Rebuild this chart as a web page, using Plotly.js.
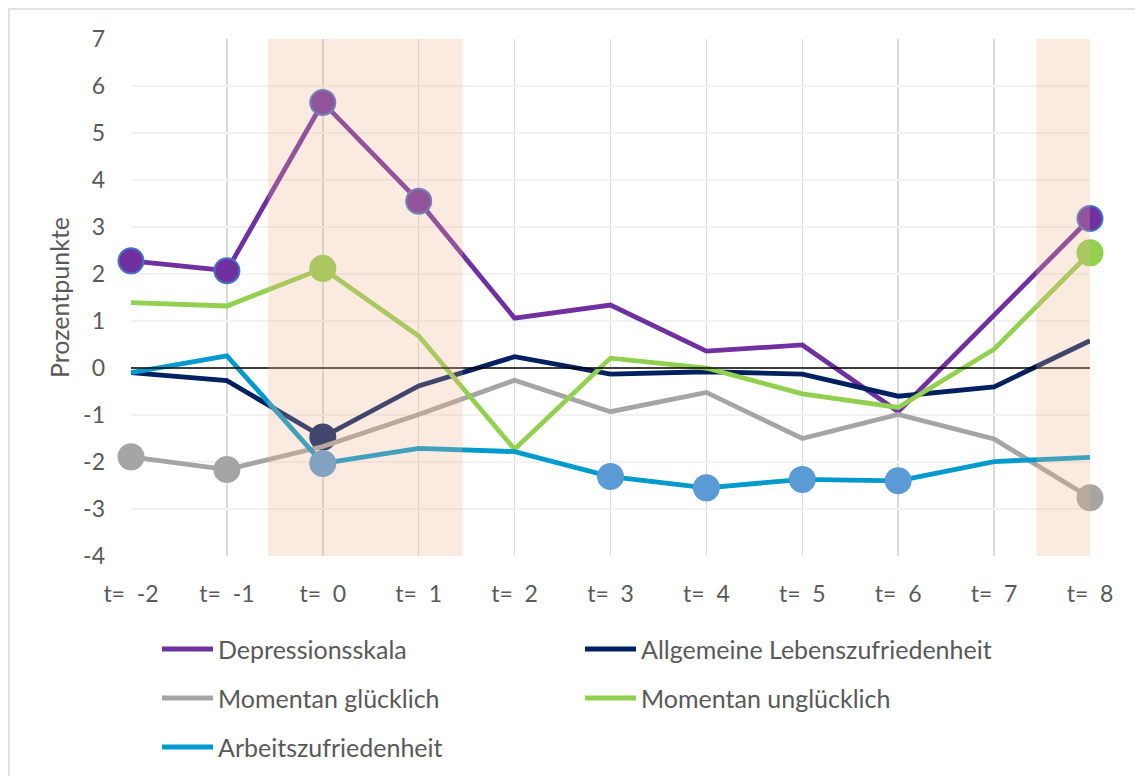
<!DOCTYPE html>
<html>
<head>
<meta charset="utf-8">
<script src="https://cdn.plot.ly/plotly-3.0.1.min.js"></script>
<style>html,body{margin:0;padding:0;background:#fff;}#chart{width:1135px;height:776px;}</style>
</head>
<body>
<div id="chart"></div>
<script>
// ---- data ----
const categories = ["t=\u00A0\u00A0-2","t=\u00A0\u00A0-1","t=\u00A0\u00A00","t=\u00A0\u00A01","t=\u00A0\u00A02","t=\u00A0\u00A03","t=\u00A0\u00A04","t=\u00A0\u00A05","t=\u00A0\u00A06","t=\u00A0\u00A07","t=\u00A0\u00A08"];
const seriesNames = ["Depressionsskala","Allgemeine Lebenszufriedenheit","Momentan glücklich","Momentan unglücklich","Arbeitszufriedenheit"];
const depression   = [2.28, 2.07, 5.65, 3.55, 1.06, 1.34, 0.36, 0.49, -0.93, 1.13, 3.18];
const lebenszufr   = [-0.10, -0.27, -1.47, -0.38, 0.24, -0.13, -0.08, -0.13, -0.60, -0.40, 0.58];
const gluecklich   = [-1.89, -2.16, -1.67, -0.99, -0.26, -0.93, -0.52, -1.50, -0.99, -1.51, -2.76];
const ungluecklich = [1.39, 1.32, 2.12, 0.68, -1.73, 0.21, 0.00, -0.55, -0.84, 0.40, 2.45];
const arbeitszufr  = [-0.10, 0.26, -2.03, -1.71, -1.78, -2.31, -2.55, -2.37, -2.40, -1.99, -1.90];
const nullLinie    = [0, 0, 0, 0, 0, 0, 0, 0, 0, 0, 0];
// indices of highlighted (marked) time points per series
const markedDepression   = [0, 1, 2, 3, 10];
const markedLebenszufr   = [2];
const markedGluecklich   = [0, 1, 10];
const markedUngluecklich = [2, 10];
const markedArbeitszufr  = [2, 5, 6, 7, 8];
const yTicks = [-4, -3, -2, -1, 0, 1, 2, 3, 4, 5, 6, 7];
const yTickLabels = ["-4", "-3", "-2", "-1", "0", "1", "2", "3", "4", "5", "6", "7"];

// ---- styles ----
const FONT = "Lato, 'Open Sans', sans-serif";
const TXT = "#595959";
const styles = [
  {line:"#7030A0", marker:"#7030A0", outline:"#4472C4", ow:2},
  {line:"#002060", marker:"#002060", outline:"#002060", ow:0},
  {line:"#A5A5A5", marker:"#A5A5A5", outline:"#A5A5A5", ow:0},
  {line:"#92D050", marker:"#92D050", outline:"#92D050", ow:0},
  {line:"#009ACD", marker:"#5B9BD5", outline:"#5B9BD5", ow:0}
];
const allSeries = [depression, lebenszufr, gluecklich, ungluecklich, arbeitszufr];
const allMarked = [markedDepression, markedLebenszufr, markedGluecklich, markedUngluecklich, markedArbeitszufr];

const traces = allSeries.map((vals, s) => {
  const st = styles[s];
  return {
    type: "scatter", mode: "lines+markers",
    x: categories, y: vals, name: seriesNames[s],
    cliponaxis: false,
    line: {color: st.line, width: 4.8},
    marker: {
      color: st.marker, opacity: 1,
      size: vals.map((v, i) => allMarked[s].includes(i) ? (st.ow ? 25 : 27) : 0),
      line: {color: st.outline, width: vals.map((v, i) => allMarked[s].includes(i) ? st.ow : 0)}
    },
    showlegend: false, hoverinfo: "x+y+name"
  };
});
traces.push({
  type: "scatter", mode: "lines", x: categories, y: nullLinie,
  line: {color: "#000000", width: 1.5}, showlegend: false, hoverinfo: "skip"
});

// plot area in px
const L = 131, R = 1090, T = 39, B = 556, W = 1135, H = 776;
const px = x => (x - L) / (R - L);
const py = y => (B - y) / (B - T);

const shapes = [
  {type:"rect", xref:"paper", yref:"paper", x0:px(9), x1:px(1145), y0:py(785), y1:py(9),
   line:{color:"#D9D9D9", width:1.5}, fillcolor:"rgba(0,0,0,0)", layer:"below"},
  {type:"rect", xref:"x", yref:"y", x0:1.43, x1:3.46, y0:-4.05, y1:7.06,
   line:{width:0}, fillcolor:"rgba(240,178,141,0.27)", layer:"above"},
  {type:"rect", xref:"x", yref:"y", x0:9.44, x1:10, y0:-4.05, y1:7.06,
   line:{width:0}, fillcolor:"rgba(240,178,141,0.27)", layer:"above"}
];

// manual legend (two columns, three rows)
const legendPos = [[160, 649], [583, 649], [160, 698], [583, 698], [160, 747]];
const annotations = [];
seriesNames.forEach((n, s) => {
  const [lx, ly] = legendPos[s];
  shapes.push({type:"line", xref:"paper", yref:"paper", x0:px(lx+2), x1:px(lx+53), y0:py(ly), y1:py(ly),
    line:{color: styles[s].line, width:5}, layer:"above"});
  annotations.push({xref:"paper", yref:"paper", x:px(lx+56), y:py(ly), xanchor:"left", yanchor:"middle",
    text:n, showarrow:false, font:{family:FONT, size:25, color:TXT}});
});

const layout = {
  width: W, height: H,
  margin: {l: L, r: W - R, t: T, b: H - B, pad: 0},
  paper_bgcolor: "#ffffff", plot_bgcolor: "#ffffff",
  showlegend: false,
  font: {family: FONT, size: 22, color: TXT},
  xaxis: {
    type: "category", range: [0, 10], showgrid: true, gridcolor: "#D9D9D9", gridwidth: 1.5,
    showline: false, zeroline: false, ticks: "", ticklabelstandoff: 22,
    tickfont: {family: FONT, size: 23, color: TXT}, fixedrange: true
  },
  yaxis: {
    range: [-4, 7], tickvals: yTicks, ticktext: yTickLabels, showgrid: true, gridcolor: "#F2F2F2", gridwidth: 1.5,
    showline: false, zeroline: false, ticks: "", ticklabelstandoff: 25,
    tickfont: {family: FONT, size: 23, color: TXT},
    title: {text: "Prozentpunkte", font: {family: FONT, size: 25, color: TXT}, standoff: 6},
    fixedrange: true
  },
  shapes: shapes,
  annotations: annotations
};

Plotly.newPlot("chart", traces, layout, {displayModeBar: false, staticPlot: true});
</script>
</body>
</html>
